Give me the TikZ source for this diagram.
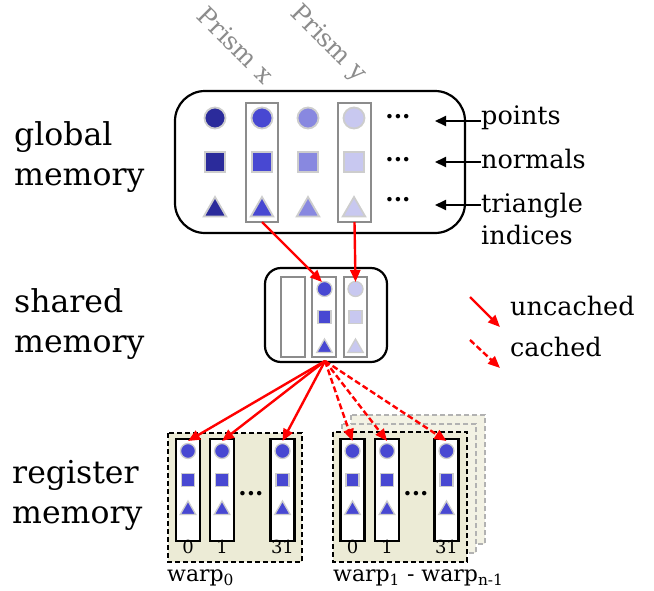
\documentclass[tikz,border=0pt]{standalone}
\usepackage{fontspec}
\setmainfont{DejaVu Serif}
\usetikzlibrary{arrows.meta,shapes.geometric}
\definecolor{cA}{RGB}{43,43,155}
\definecolor{cB}{RGB}{72,72,210}
\definecolor{cC}{RGB}{136,136,224}
\definecolor{cD}{RGB}{200,200,240}
\definecolor{symborder}{RGB}{205,205,205}
\definecolor{colgray}{RGB}{140,140,140}
\definecolor{beige}{RGB}{236,235,214}
\definecolor{beigeL}{RGB}{243,242,228}
\tikzset{
  sym/.style={draw=symborder, inner sep=0pt, outer sep=0pt},
  circB/.style={sym, circle, minimum size=21pt, line width=1.8pt},
  sqB/.style={sym, rectangle, minimum size=20pt, line width=1.8pt},
  triB/.style={sym, regular polygon, regular polygon sides=3, minimum size=26pt, line width=1.8pt},
  circS/.style={sym, circle, minimum size=15pt, line width=1.3pt},
  sqS/.style={sym, rectangle, minimum size=13pt, line width=1.3pt},
  triS/.style={sym, regular polygon, regular polygon sides=3, minimum size=18pt, line width=1.3pt},
  graycol/.style={draw=colgray, line width=2pt, inner sep=0pt, outer sep=0pt},
  regcol/.style={draw=black, fill=white, line width=2.4pt, inner sep=0pt, outer sep=0pt, minimum width=24pt, minimum height=102pt},
  bigbox/.style={draw=black, line width=2.2pt},
  warpbox/.style={draw=black, fill=beige, line width=2pt, dash pattern=on 5pt off 3pt},
  shadowbox/.style={draw=black!30, fill=beigeL, line width=2pt, dash pattern=on 5pt off 3pt},
  redarr/.style={draw=red, line width=2.4pt, -{Triangle[length=12pt,width=10pt]}},
  reddash/.style={redarr, dash pattern=on 6pt off 3pt},
  blackarr/.style={draw=black, line width=2pt, -{Triangle[length=11pt,width=10pt]}},
  biglabel/.style={font=\fontsize{31.5}{40}\selectfont, align=left, anchor=west, inner sep=0pt},
  sidelabel/.style={font=\fontsize{25.5}{32}\selectfont, align=left, anchor=west, inner sep=0pt},
  prism/.style={font=\fontsize{25}{25}\selectfont, text=black!45, rotate=-45, inner sep=0pt},
  dots/.style={font=\fontsize{24}{24}\selectfont, inner sep=0pt},
  idx/.style={font=\fontsize{18}{18}\selectfont, inner sep=0pt},
  warplabel/.style={font=\fontsize{22}{22}\selectfont, anchor=west, inner sep=0pt}
}
\begin{document}
\begin{tikzpicture}[x=1pt,y=-1pt]
\useasboundingbox (0,0) rectangle (654,590);

% left labels
\node[biglabel] (lglobal) at (14,157) {global\\memory};
\node[biglabel] (lshared) at (14,324) {shared\\memory};
\node[biglabel] (lreg) at (12,495) {register\\memory};

% prism labels
\node[prism] (px) at (236,45) {Prism x};
\node[prism] (py) at (328,44) {Prism y};

% global memory box
\draw[bigbox, rounded corners=30pt] (175,91) rectangle (465,233);
\node[graycol, minimum width=32pt, minimum height=119pt] (gcx) at (262,162.5) {};
\node[graycol, minimum width=33pt, minimum height=119pt] (gcy) at (354.5,162.5) {};
\foreach \x/\c/\n in {215/cA/1, 262/cB/2, 308/cC/3, 354/cD/4}{
  \node[circB, fill=\c] (gc\n) at (\x,118) {};
  \node[sqB, fill=\c] (gs\n) at (\x,162) {};
  \node[triB, fill=\c] (gt\n) at (\x,210) {};
}
\node[dots] (d1) at (398,117) {\textbf{...}};
\node[dots] (d2) at (398,160) {\textbf{...}};
\node[dots] (d3) at (398,200) {\textbf{...}};

% side labels
\node[sidelabel] (lpoints) at (481,118) {points};
\node[sidelabel] (lnormals) at (481,159) {normals};
\node[sidelabel] (ltri) at (481,219) {triangle\\indices};
\coordinate (tp) at (435,121);
\coordinate (tn) at (435,162);
\coordinate (tt) at (435,205);
\draw[blackarr] (lpoints.west |- tp) -- (tp);
\draw[blackarr] (lnormals.west |- tn) -- (tn);
\draw[blackarr] (ltri.west |- tt) -- (tt);

% shared memory box
\draw[bigbox, rounded corners=16pt] (265,268) rectangle (387,362);
\node[graycol, minimum width=24pt, minimum height=80pt] (sc1) at (293,317) {};
\node[graycol, minimum width=24pt, minimum height=80pt] (sc2) at (324,317) {};
\node[graycol, minimum width=23pt, minimum height=80pt] (sc3) at (355.5,317) {};
\foreach \x/\c/\n in {324.5/cB/2, 355.5/cD/3}{
  \node[circS, fill=\c] (ssc\n) at (\x,289) {};
  \node[sqS, fill=\c] (sss\n) at (\x,317) {};
  \node[triS, fill=\c] (sst\n) at (\x,348) {};
}
\coordinate (fan) at (325,361);

% global -> shared
\draw[redarr] (gcx.south) -- ([xshift=-2pt,yshift=-5pt]sc2.north);
\draw[redarr] (gcy.south) -- ([yshift=-5pt]sc3.north);

% register memory: shadows of warp 1..n-1
\draw[shadowbox] (351,415) rectangle (485,544);
\draw[shadowbox] (342,424) rectangle (476,553);
\draw[warpbox] (168,433) rectangle (302,562);
\draw[warpbox] (333,432) rectangle (467,562);

\foreach \x/\n in {188/a, 222/b, 282.5/c, 352.5/d, 387/e, 446.5/f}{
  \node[regcol] (r\n) at (\x,490) {};
  \node[circS, fill=cB] (rc\n) at (\x,451) {};
  \node[sqS, fill=cB] (rs\n) at (\x,480) {};
  \node[triS, fill=cB] (rt\n) at (\x,510) {};
}
\node[dots] (d4) at (251,494) {\textbf{...}};
\node[dots] (d5) at (416,494) {\textbf{...}};
\foreach \n/\t in {a/0, b/1, c/31, d/0, e/1, f/31}{
  \node[idx, anchor=north] (i\n) at ([yshift=1.5pt]r\n.south) {\t};
}
\node[warplabel] (w0) at (167,578) {warp\textsubscript{0}};
\node[warplabel] (w1) at (333,578) {warp\textsubscript{1} - warp\textsubscript{n-1}};

% shared -> registers
\draw[redarr] (fan) -- ([yshift=-2pt]ra.north);
\draw[redarr] (fan) -- ([yshift=-2pt]rb.north);
\draw[redarr] (fan) -- ([yshift=-2pt]rc.north);
\draw[reddash] (fan) -- ([yshift=-2pt]rd.north);
\draw[reddash] (fan) -- ([yshift=-2pt]re.north);
\draw[reddash] (fan) -- ([yshift=-2pt]rf.north);

% legend
\node[sidelabel] (lunc) at (510,306) {uncached};
\node[sidelabel] (lcac) at (510,347) {cached};
\coordinate (u1) at (470,297);
\coordinate (u2) at (500,327);
\coordinate (c1) at (470,340);
\coordinate (c2) at (500,368);
\draw[redarr] (u1) -- (u2);
\draw[reddash] (c1) -- (c2);
\end{tikzpicture}
\end{document}
